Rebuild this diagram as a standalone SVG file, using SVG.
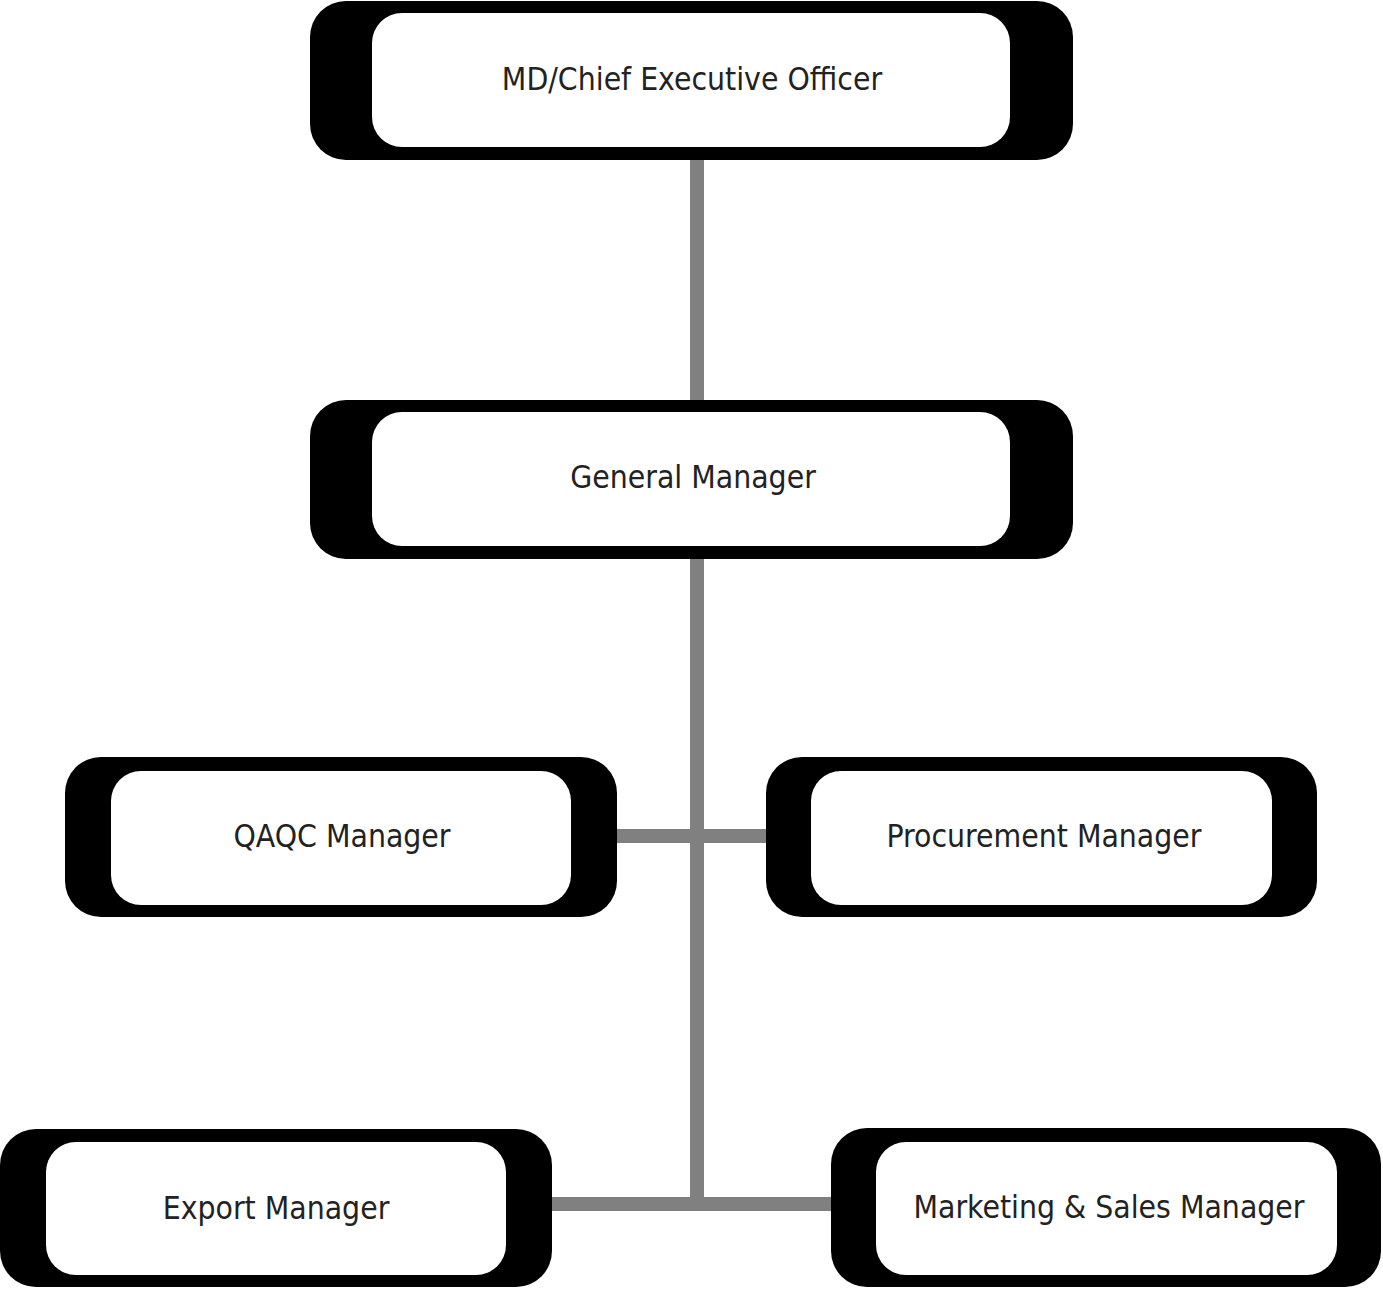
<svg xmlns="http://www.w3.org/2000/svg" width="1383" height="1293" viewBox="0 0 1383 1293">
<style>
.outer{fill:#000}
.inner{fill:#fff}
.lbl{font-family:"DejaVu Sans Condensed","DejaVu Sans",sans-serif;font-size:31.6px;fill:#222;text-anchor:middle}
.conn{fill:#808080}
</style>
<rect width="1383" height="1293" fill="#fff"/>
<g id="connectors">
<rect class="conn" x="690" y="158" width="14" height="244"/>
<rect class="conn" x="690" y="556" width="14" height="655"/>
<rect class="conn" x="615" y="829" width="153" height="14"/>
<rect class="conn" x="550" y="1197" width="283" height="14"/>
</g>
<g id="ceo">
<rect class="outer" x="310" y="1" width="763" height="159" rx="36"/>
<rect class="inner" x="372" y="13" width="638" height="134" rx="30"/>
<text class="lbl" x="692" y="90">MD/Chief Executive Officer</text>
</g>
<g id="gm">
<rect class="outer" x="310" y="400" width="763" height="159" rx="36"/>
<rect class="inner" x="372" y="412" width="638" height="134" rx="30"/>
<text class="lbl" x="693" y="488">General Manager</text>
</g>
<g id="qaqc">
<rect class="outer" x="65" y="757" width="552" height="160" rx="36"/>
<rect class="inner" x="111" y="771" width="460" height="134" rx="30"/>
<text class="lbl" x="342" y="847">QAQC Manager</text>
</g>
<g id="procurement">
<rect class="outer" x="766" y="757" width="551" height="160" rx="36"/>
<rect class="inner" x="811" y="771" width="461" height="134" rx="30"/>
<text class="lbl" x="1044" y="847">Procurement Manager</text>
</g>
<g id="export">
<rect class="outer" x="0" y="1129" width="552" height="158" rx="36"/>
<rect class="inner" x="46" y="1142" width="460" height="133" rx="30"/>
<text class="lbl" x="276" y="1219">Export Manager</text>
</g>
<g id="marketing">
<rect class="outer" x="831" y="1128" width="550" height="159" rx="36"/>
<rect class="inner" x="876" y="1142" width="461" height="133" rx="30"/>
<text class="lbl" x="1109" y="1218">Marketing &amp; Sales Manager</text>
</g>
</svg>
